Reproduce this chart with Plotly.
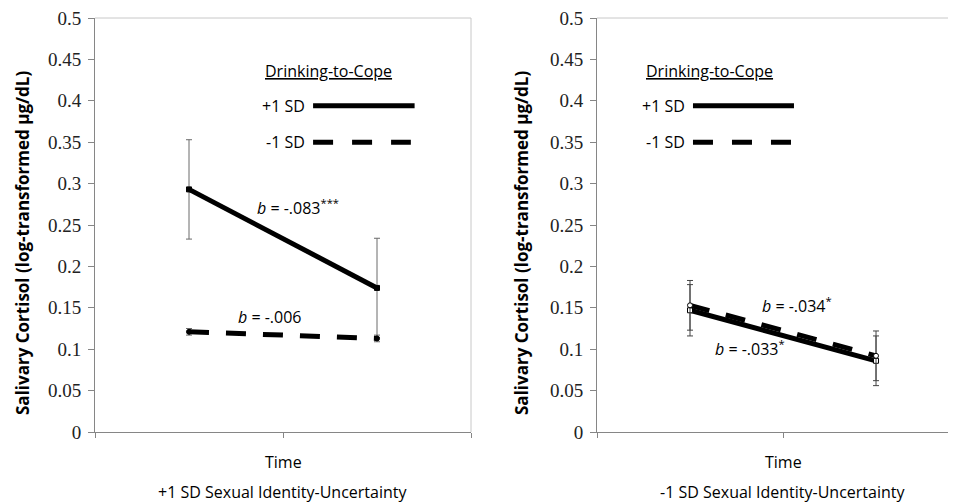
import plotly.graph_objects as go

# ---- data ----
time_pts = [0, 1]
y_tickvals = [0, 0.05, 0.1, 0.15, 0.2, 0.25, 0.3, 0.35, 0.4, 0.45, 0.5]
y_ticktext = ["0", "0.05", "0.1", "0.15", "0.2", "0.25", "0.3", "0.35", "0.4", "0.45", "0.5"]

left_hi = [0.293, 0.174]
left_hi_err = [0.060, 0.060]
left_lo = [0.121, 0.113]
left_lo_err = [0.004, 0.004]

right_hi = [0.147, 0.086]
right_hi_err = [0.031, 0.030]
right_lo = [0.153, 0.092]
right_lo_err = [0.030, 0.030]

panel_titles = ["+1 SD Sexual Identity-Uncertainty", "-1 SD Sexual Identity-Uncertainty"]
x_label = "Time"
y_label = "Salivary Cortisol (log-transformed \u03bcg/dL)"
legend_title = "Drinking-to-Cope"
legend_labels = ["+1 SD", "-1 SD"]
slopes_left = ["<i>b</i> = -.083<sup>***</sup>", "<i>b</i> = -.006"]
slopes_right = ["<i>b</i> = -.033<sup>*</sup>", "<i>b</i> = -.034<sup>*</sup>"]

SANS = "Open Sans"
SERIF = "Liberation Serif"
DASH = "20px,17px"
AX = "#868686"
BORDER = "#c8c8c8"

# the page body adds an 8px offset; figure is sized so it fits the 956x503 window
W, H = 948, 495
OFF = 8

fig = go.Figure()

def add_pair(xa, ya, hi, hi_err, lo, lo_err, errcol, filled):
    fill = "black" if filled else "white"
    fig.add_trace(go.Scatter(
        x=time_pts, y=hi, mode="lines+markers", xaxis=xa, yaxis=ya,
        line=dict(color="black", width=5),
        marker=dict(symbol="square", size=5, color=fill, line=dict(color="black", width=1)),
        error_y=dict(type="data", array=hi_err, visible=True, color=errcol, thickness=1, width=3),
        showlegend=False))
    fig.add_trace(go.Scatter(
        x=time_pts, y=lo, mode="lines+markers", xaxis=xa, yaxis=ya,
        line=dict(color="black", width=5, dash=DASH),
        marker=dict(symbol="circle", size=5, color=fill, line=dict(color="black", width=1)),
        error_y=dict(type="data", array=lo_err, visible=True, color=errcol, thickness=1, width=3),
        showlegend=False))

add_pair("x", "y", left_hi, left_hi_err, left_lo, left_lo_err, "#6a6a6a", True)
add_pair("x2", "y2", right_hi, right_hi_err, right_lo, right_lo_err, "#444444", False)

xcommon = dict(showgrid=False, zeroline=False, showline=True, linecolor=AX, linewidth=1,
               ticks="outside", ticklen=5, tickcolor=AX, showticklabels=False, tickmode="array")
ycommon = dict(showgrid=False, zeroline=False, showline=True, linecolor=AX, linewidth=1,
               ticks="outside", ticklen=6, tickcolor=AX, range=[0, 0.5], tickmode="array",
               tickvals=y_tickvals, ticktext=y_ticktext, ticklabelstandoff=3,
               ticklabeloverflow="allow",
               tickfont=dict(family=SERIF, size=19, color="#222222"), domain=[0, 1])

fig.update_layout(
    width=W, height=H,
    margin=dict(l=0, r=0, t=18 - OFF, b=H - (432 - OFF)),
    paper_bgcolor="white", plot_bgcolor="white",
    xaxis=dict(domain=[(95 - OFF) / W, (471 - OFF) / W], range=[-0.5, 1.5], tickvals=[-0.5, 0.5, 1.5], anchor="y", **xcommon),
    yaxis=dict(anchor="x", **ycommon),
    xaxis2=dict(domain=[(597 - OFF) / W, 1], range=[-0.5, 1.43], tickvals=[-0.5, 0.5], anchor="y2", **xcommon),
    yaxis2=dict(anchor="x2", **ycommon),
)

shapes = []
shapes.append(dict(type="line", xref="x domain", yref="y domain", x0=0, x1=1, y0=1, y1=1, line=dict(color=BORDER, width=1)))
shapes.append(dict(type="line", xref="x domain", yref="y domain", x0=1, x1=1, y0=0, y1=1, line=dict(color=BORDER, width=1)))
shapes.append(dict(type="line", xref="x2 domain", yref="y2 domain", x0=0, x1=1, y0=1, y1=1, line=dict(color=BORDER, width=1)))

leg = [("x", "y", 0.66, 1.20, 1.18), ("x2", "y2", 0.016, 0.559, 0.543)]
for xr, yr, a, b1, b2 in leg:
    shapes.append(dict(type="line", xref=xr, yref=yr, x0=a, x1=b1, y0=0.394, y1=0.394, line=dict(color="black", width=5)))
    shapes.append(dict(type="line", xref=xr, yref=yr, x0=a, x1=b2, y0=0.350, y1=0.350, line=dict(color="black", width=5, dash="20px,19px")))
fig.update_layout(shapes=shapes)

ann = []
txt = dict(family=SANS, size=16, color="black")
for xr, yr, cx, lx in [("x", "y", 0.742, 0.628), ("x2", "y2", 0.105, -0.016)]:
    ann.append(dict(xref=xr, yref=yr, x=cx, y=0.436, text="<u>" + legend_title + "</u>", showarrow=False, font=txt))
    ann.append(dict(xref=xr, yref=yr, x=lx, y=0.394, text=legend_labels[0], showarrow=False, xanchor="right", font=txt))
    ann.append(dict(xref=xr, yref=yr, x=lx, y=0.350, text=legend_labels[1], showarrow=False, xanchor="right", font=txt))

ann.append(dict(xref="x", yref="y", x=0.58, y=0.272, text=slopes_left[0], showarrow=False, font=txt))
ann.append(dict(xref="x", yref="y", x=0.43, y=0.139, text=slopes_left[1], showarrow=False, font=txt))
ann.append(dict(xref="x2", yref="y2", x=0.32, y=0.102, text=slopes_right[0], showarrow=False, font=txt))
ann.append(dict(xref="x2", yref="y2", x=0.575, y=0.153, text=slopes_right[1], showarrow=False, font=txt))

for xr, title in [("x", panel_titles[0]), ("x2", panel_titles[1])]:
    ann.append(dict(xref=xr, yref="paper", x=0.5, y=-30 / 414, yanchor="middle", text=x_label, showarrow=False, font=txt))
    ann.append(dict(xref=xr, yref="paper", x=0.5, y=-60 / 414, yanchor="middle", text=title, showarrow=False, font=txt))

for px in [22, 521]:
    ann.append(dict(xref="paper", yref="paper", x=(px - OFF) / W, y=(432 - 243) / 414, xanchor="center", yanchor="middle",
                    text="<b>" + y_label + "</b>", textangle=-90, showarrow=False,
                    font=dict(family=SANS, size=17, color="black")))

fig.update_layout(annotations=ann)
fig.write_html("out.html")
